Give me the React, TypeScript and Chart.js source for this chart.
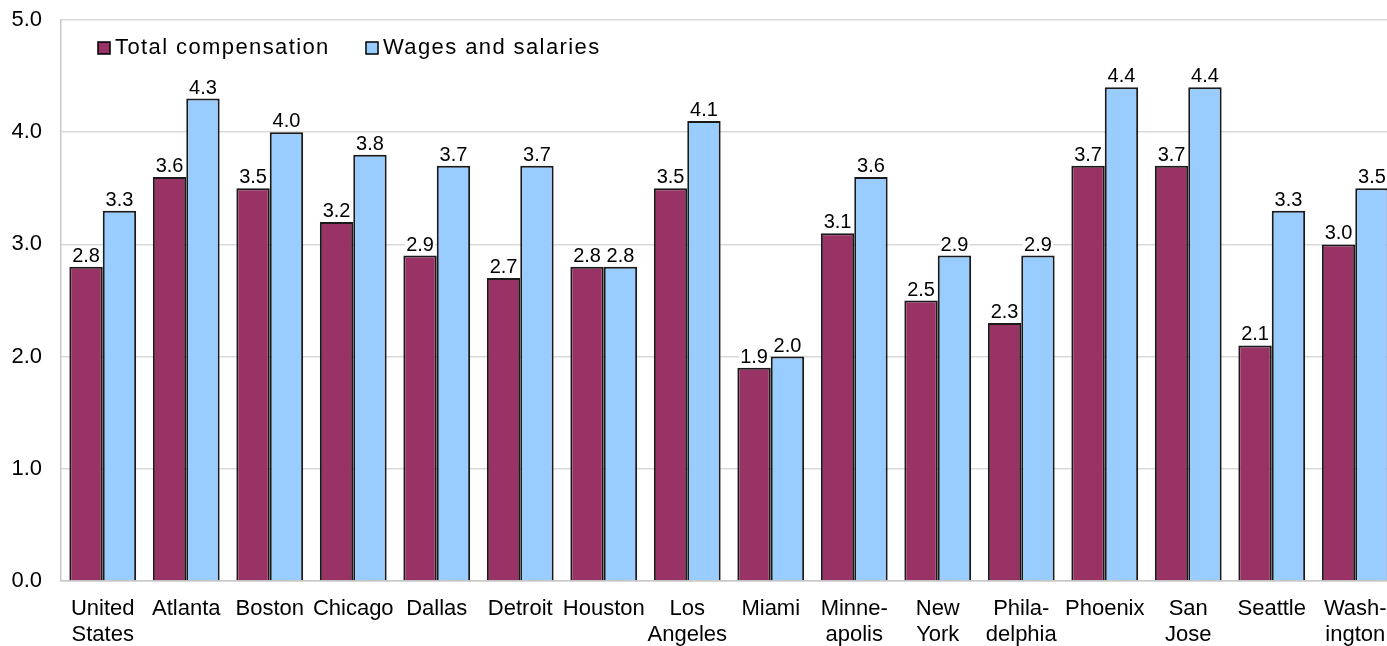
import React, { useEffect, useRef } from "react";
import { Chart, registerables } from "chart.js";

Chart.register(...registerables);

const categories: (string | string[])[] = [
  ["United", "States"], "Atlanta", "Boston", "Chicago", "Dallas", "Detroit", "Houston",
  ["Los", "Angeles"], "Miami", ["Minne-", "apolis"], ["New", "York"], ["Phila-", "delphia"],
  "Phoenix", ["San", "Jose"], "Seattle", ["Wash-", "ington"],
];
const totalCompensation = [2.8, 3.6, 3.5, 3.2, 2.9, 2.7, 2.8, 3.5, 1.9, 3.1, 2.5, 2.3, 3.7, 3.7, 2.1, 3.0];
const wagesAndSalaries = [3.3, 4.3, 4.0, 3.8, 3.7, 3.7, 2.8, 4.1, 2.0, 3.6, 2.9, 2.9, 4.4, 4.4, 3.3, 3.5];
const seriesNames = ["Total compensation", "Wages and salaries"];
const yTicks = [0, 1, 2, 3, 4, 5];

const FONT = "'Liberation Sans', Arial, sans-serif";
const MAROON = "#993366";
const LIGHTBLUE = "#99CCFF";

const labelPlugin = {
  id: "valueLabels",
  afterDatasetsDraw(chart: any) {
    const ctx = chart.ctx;
    ctx.save();
    ctx.font = `20px ${FONT}`;
    ctx.textAlign = "center";
    ctx.textBaseline = "alphabetic";
    chart.data.datasets.forEach((ds: any, di: number) => {
      const meta = chart.getDatasetMeta(di);
      meta.data.forEach((bar: any, i: number) => {
        const txt = Number(ds.data[i]).toFixed(1);
        const w = ctx.measureText(txt).width;
        const by = bar.y - 5;
        ctx.fillStyle = "#ffffff";
        ctx.fillRect(bar.x - w / 2 - 1, by - 15, w + 2, 17);
        ctx.fillStyle = "#000000";
        ctx.fillText(txt, bar.x, by);
      });
    });
    ctx.restore();
  },
  afterDraw(chart: any) {
    const ctx = chart.ctx;
    ctx.save();
    ctx.font = `22px ${FONT}`;
    (ctx as any).letterSpacing = "1.4px";
    ctx.textBaseline = "middle";
    ctx.textAlign = "left";
    const items = [
      { x: 98, color: MAROON, text: chart.data.datasets[0].label },
      { x: 366, color: LIGHTBLUE, text: chart.data.datasets[1].label },
    ];
    items.forEach((it) => {
      ctx.fillStyle = it.color;
      ctx.fillRect(it.x, 42, 12, 12);
      ctx.strokeStyle = "#000";
      ctx.lineWidth = 1.5;
      ctx.strokeRect(it.x, 42, 12, 12);
      ctx.fillStyle = "#000";
      ctx.fillText(it.text, it.x + 17, 48);
    });
    ctx.restore();
  },
};

export default function App() {
  const ref = useRef<HTMLCanvasElement>(null);
  useEffect(() => {
    if (!ref.current) return;
    const chart = new Chart(ref.current, {
      type: "bar",
      data: {
        labels: categories as any,
        datasets: [
          {
            label: seriesNames[0],
            data: totalCompensation,
            backgroundColor: MAROON,
            borderColor: "#1a1a1a",
            borderWidth: 2,
            categoryPercentage: 0.8,
            barPercentage: 1.0,
          },
          {
            label: seriesNames[1],
            data: wagesAndSalaries,
            backgroundColor: LIGHTBLUE,
            borderColor: "#1a1a1a",
            borderWidth: 2,
            categoryPercentage: 0.8,
            barPercentage: 1.0,
          },
        ],
      },
      options: {
        responsive: false,
        animation: false,
        devicePixelRatio: 1,
        layout: { padding: { top: 20, right: 3, left: 0, bottom: 0 } },
        plugins: { legend: { display: false }, tooltip: { enabled: false }, title: { display: false } },
        scales: {
          x: {
            grid: { display: false, drawTicks: false },
            border: { display: true, color: "#c8c8c8", width: 1.5 },
            ticks: {
              color: "#000",
              font: { family: FONT, size: 22, lineHeight: 1.18 },
              padding: 15,
              maxRotation: 0,
              autoSkip: false,
            },
            afterFit: (s: any) => { s.height = 65; s.paddingLeft = 0; s.paddingRight = 0; },
          },
          y: {
            min: 0,
            max: 5,
            afterBuildTicks: (s: any) => { s.ticks = yTicks.map((v) => ({ value: v })); },
            grid: { color: "#d9d9d9", lineWidth: 1.5, drawTicks: false },
            border: { display: true, color: "#c8c8c8", width: 1.5 },
            ticks: {
              color: "#000",
              font: { family: FONT, size: 22 },
              padding: 19,
              callback: (v: any) => Number(v).toFixed(1),
            },
            afterFit: (s: any) => { s.width = 61; s.paddingTop = 0; s.paddingBottom = 0; },
          },
        },
      },
      plugins: [labelPlugin],
    });
    return () => chart.destroy();
  }, []);
  return (
    <div style={{ position: "fixed", left: 0, top: 0, width: 1387, height: 646, overflow: "hidden", background: "#fff" }}>
      <canvas ref={ref} width={1400} height={646} style={{ display: "block", width: 1400, height: 646 }} />
    </div>
  );
}
